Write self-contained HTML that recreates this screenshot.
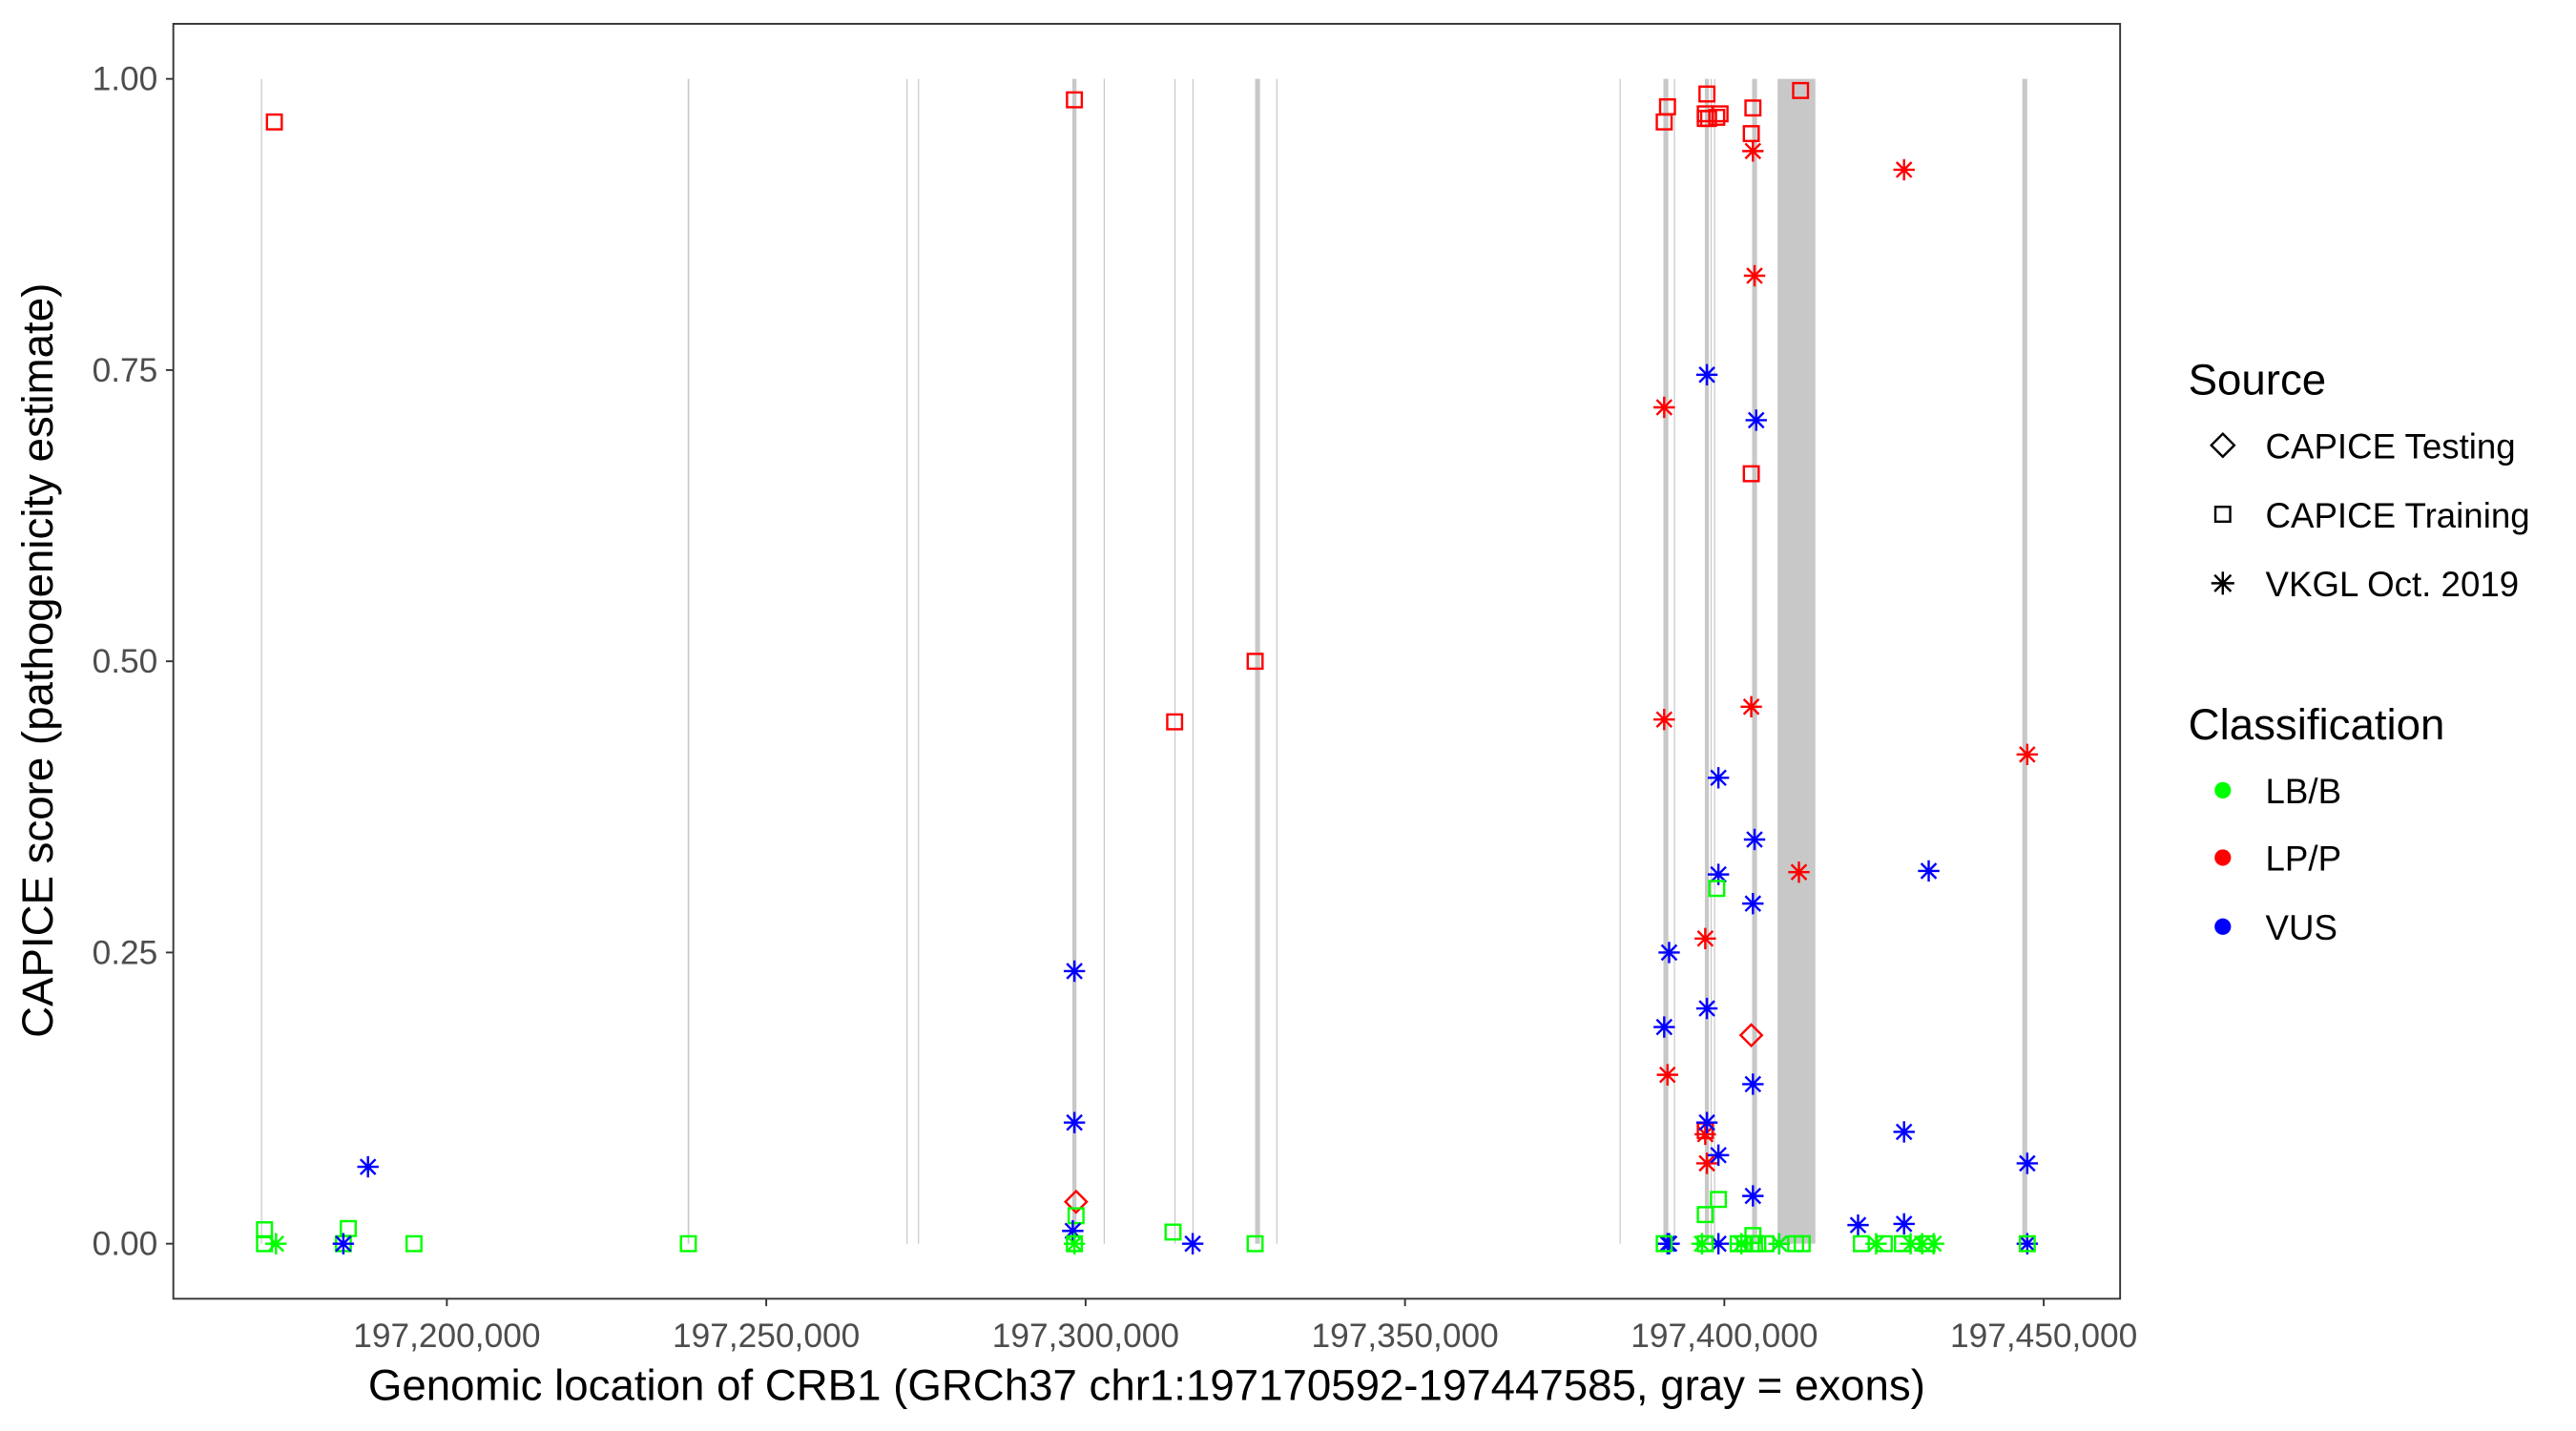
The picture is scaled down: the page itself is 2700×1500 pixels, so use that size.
<!DOCTYPE html>
<html><head><meta charset="utf-8"><style>
html,body{margin:0;padding:0;background:#fff;}
svg{display:block;font-family:"Liberation Sans",Arial,sans-serif;}
</style></head><body>
<svg id="chart" width="2700" height="1500" viewBox="0 0 1568 871" preserveAspectRatio="none" xmlns="http://www.w3.org/2000/svg">
<rect x="0" y="0" width="1568" height="871" fill="#fff"/>
<g id="exons"></g>
<g id="points"></g>
<rect x="105.5" y="14.5" width="1185" height="776" fill="none" stroke="#333" stroke-width="1.1"/>
<g id="yaxis"></g>
<g id="xaxis"></g>
<text x="698" y="852" font-size="26.5" text-anchor="middle" fill="#000">Genomic location of CRB1 (GRCh37 chr1:197170592-197447585, gray = exons)</text>
<text transform="translate(32,402) rotate(-90)" font-size="26.5" text-anchor="middle" fill="#000">CAPICE score (pathogenicity estimate)</text>
<g>
<text x="1332" y="240" font-size="26.5">Source</text>
<g>
<path d="M1353 264 L1360 271 L1353 278 L1346 271 Z" fill="none" stroke="#000" stroke-width="1.4"/>
<text x="1379" y="279" font-size="21.3">CAPICE Testing</text></g>
<g>
<rect x="1348.5" y="308.5" width="9" height="9" fill="none" stroke="#000" stroke-width="1.4"/>
<text x="1379" y="321" font-size="21.3">CAPICE Training</text></g>
<g>
<path d="M1346 355 H1360 M1353 348 V362 M1348 350 L1358 360 M1358 350 L1348 360" stroke="#000" stroke-width="1.4"/>
<text x="1379" y="363" font-size="21.3">VKGL Oct. 2019</text></g>
<text x="1332" y="450" font-size="26.5">Classification</text>
<g><circle cx="1353" cy="481" r="5" fill="#00ff00"/><text x="1379" y="489" font-size="21.3">LB/B</text></g>
<g><circle cx="1353" cy="522" r="5" fill="#ff0000"/><text x="1379" y="530" font-size="21.3">LP/P</text></g>
<g><circle cx="1353" cy="564" r="5" fill="#0000ff"/><text x="1379" y="572" font-size="21.3">VUS</text></g>
</g>
</svg>
<script>
const exonStart=[197170900,197237700,197271950,197273750,197297930,197302830,197313900,197316720,197326540,197329850,197383600,197390460,197392100,197396950,197397850,197398380,197404350,197408332];
const exonEnd  =[197171030,197237950,197272080,197273880,197298570,197302950,197314000,197316830,197327310,197329950,197383700,197391230,197392180,197397590,197397970,197398480,197405120,197414248];
const exonEnd2=[197447426];const exonStart2=[197446650];
const yTicks=[0,0.25,0.5,0.75,1];
const yTickLabels=["0.00","0.25","0.50","0.75","1.00"];
const xTicks=[197200000,197250000,197300000,197350000,197400000,197450000];
const xTickLabels=["197,200,000","197,250,000","197,300,000","197,350,000","197,400,000","197,450,000"];
const pos=[197172994,197171451,197171451,197173251,197183796,197184568,197183796,197187654,197194856,197237808,
197298250,197298250,197298250,197298508,197298508,197297993,197298250,197298250,197313940,197313682,197316769,197326542,197326542,
197390585,197391100,197397272,197397015,197397530,197397015,197399330,197398816,197404474,197404217,197411933,197404217,
197404474,197428136,197404731,197390585,197390585,197404217,197447426,197411676,197397015,197391100,197397015,197397272,197397015,197404217,
197397272,197404988,197399073,197404731,197399073,197431994,197404474,197391357,197390585,197397272,197404474,197397272,197399073,197428136,197447426,197404474,197420935,197428136,
197391100,197391357,197399073,197408589,197447426,
197398816,197399073,197397015,197404474,197404731,
197390585,197397015,197402159,197403188,197405246,197406532,197411161,197412190,197421449,197425050,197427879,197431737,197447426,
197396501,197402674,197408589,197423764,197429165,197430966,197432766];
const score=[0.963,0.012,0,0,0,0.013,0,0.066,0,0,
0.982,0.234,0.104,0.036,0.024,0.011,0,0,0.448,0.01,0,0.5,0,
0.963,0.976,0.987,0.966,0.966,0.97,0.97,0.967,0.975,0.953,0.99,0.661,
0.938,0.922,0.831,0.718,0.45,0.461,0.42,0.319,0.262,0.145,0.094,0.069,0.097,0.179,
0.746,0.707,0.4,0.347,0.317,0.32,0.292,0.25,0.186,0.202,0.137,0.104,0.076,0.096,0.069,0.041,0.016,0.017,
0,0,0,0,0,
0.305,0.038,0.025,0.007,0,
0,0,0,0,0,0,0,0,0,0,0,0,0,
0,0,0,0,0,0,0];
const source=["T","T","T","V","T","T","V","V","T","T",
"T","V","V","X","T","V","T","V","T","T","V","T","T",
"T","T","T","T","T","T","T","T","T","T","T","T",
"V","V","V","V","V","V","V","V","V","V","V","V","T","X",
"V","V","V","V","V","V","V","V","V","V","V","V","V","V","V","V","V","V",
"V","V","V","V","V",
"T","T","T","T","T",
"T","T","T","T","T","T","T","T","T","T","T","T","T",
"V","V","V","V","V","V","V"];
const cls=["LP","LB","LB","LB","LB","LB","VUS","VUS","LB","LB",
"LP","VUS","VUS","LP","LB","VUS","LB","LB","LP","LB","VUS","LP","LB",
"LP","LP","LP","LP","LP","LP","LP","LP","LP","LP","LP","LP",
"LP","LP","LP","LP","LP","LP","LP","LP","LP","LP","LP","LP","LP","LP",
"VUS","VUS","VUS","VUS","VUS","VUS","VUS","VUS","VUS","VUS","VUS","VUS","VUS","VUS","VUS","VUS","VUS","VUS",
"VUS","VUS","VUS","VUS","VUS",
"LB","LB","LB","LB","LB",
"LB","LB","LB","LB","LB","LB","LB","LB","LB","LB","LB","LB","LB",
"LB","LB","LB","LB","LB","LB","LB"];
const NS="http://www.w3.org/2000/svg";
function xS(p){return 272+(p-197200000)/50000*194.4;}
function yS(s){return 757-s*709;}
const colors={LB:"#00ff00",LP:"#ff0000",VUS:"#0000ff"};
function mk(tag,attrs,parent){const e=document.createElementNS(NS,tag);for(const k in attrs)e.setAttribute(k,attrs[k]);parent.appendChild(e);return e;}
const gEx=document.getElementById('exons');
const allS=exonStart.concat(exonStart2),allE=exonEnd.concat(exonEnd2);
for(let i=0;i<allS.length;i++){
  const x0=xS(allS[i]),x1=xS(allE[i]);
  const r=mk('rect',{x:x0,y:yS(1),width:Math.max(0.7,x1-x0),height:yS(0)-yS(1),fill:"#c8c8c8"},gEx);
  
  
}
const gY=document.getElementById('yaxis');
yTicks.forEach((t,i)=>{
  const y=yS(t);
  const l=mk('line',{x1:101,x2:105.5,y1:y,y2:y,stroke:"#333","stroke-width":1.1},gY);
  
  
  const tx=mk('text',{x:96,y:y+7,"font-size":20.5,"text-anchor":"end",fill:"#4d4d4d"},gY);
  tx.textContent=yTickLabels[i];
  
  
});
const gX=document.getElementById('xaxis');
xTicks.forEach((t,i)=>{
  const x=xS(t);
  const l=mk('line',{x1:x,x2:x,y1:790.5,y2:795,stroke:"#333","stroke-width":1.1},gX);
  
  
  const tx=mk('text',{x:x,y:820,"font-size":20.5,"text-anchor":"middle",fill:"#4d4d4d"},gX);
  tx.textContent=xTickLabels[i];
  
  
});
const gP=document.getElementById('points');
for(let i=0;i<pos.length;i++){
  const x=xS(pos[i]),y=yS(score[i]),c=colors[cls[i]];
  let el;
  if(source[i]==="T"){
    el=mk('rect',{x:x-4.5,y:y-4.5,width:9,height:9,fill:"none",stroke:c,"stroke-width":1.4},gP);
  }else if(source[i]==="X"){
    el=mk('path',{d:`M${x} ${y-6.5} L${x+6.5} ${y} L${x} ${y+6.5} L${x-6.5} ${y} Z`,fill:"none",stroke:c,"stroke-width":1.4},gP);
  }else{
    el=mk('path',{d:`M${x-6.5} ${y} H${x+6.5} M${x} ${y-6.5} V${y+6.5} M${x-4.6} ${y-4.6} L${x+4.6} ${y+4.6} M${x+4.6} ${y-4.6} L${x-4.6} ${y+4.6}`,fill:"none",stroke:c,"stroke-width":1.4},gP);
  }
  
  
}
</script>
</body></html>
